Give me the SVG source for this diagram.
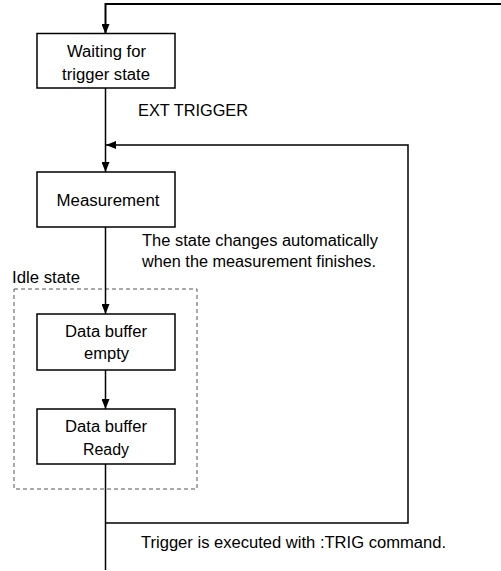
<svg xmlns="http://www.w3.org/2000/svg" width="501" height="571" viewBox="0 0 501 571">
<defs>
<style>
.box{fill:#fff;stroke:#000;stroke-width:1.5}
.ln{fill:none;stroke:#000;stroke-width:1.5}
.t{font-family:"Liberation Sans",Arial,sans-serif;font-size:16px;fill:#000}
.c{text-anchor:middle}
.dash{fill:none;stroke:#555;stroke-width:1;stroke-dasharray:4,3}
</style>
<marker id="ah" viewBox="0 0 10 8" refX="10" refY="4" markerWidth="10" markerHeight="8" markerUnits="userSpaceOnUse" orient="auto">
<path d="M0,0 L10,4 L0,8 z" fill="#000"/>
</marker>
</defs>
<rect width="501" height="571" fill="#fff"/>
<g id="idle-group">
<rect class="dash" x="14" y="289" width="183" height="200"/>
<text class="t" x="12" y="283" textLength="68" lengthAdjust="spacingAndGlyphs">Idle state</text>
</g>
<g id="connectors">
<polyline class="ln" points="501,4 105.5,4 105.5,34" style="stroke-width:2" marker-end="url(#ah)"/>
<line class="ln" x1="105.5" y1="88" x2="105.5" y2="172" marker-end="url(#ah)"/>
<polyline class="ln" points="105.5,523 408,523 408,145 106,145" marker-end="url(#ah)"/>
<line class="ln" x1="105.5" y1="227" x2="105.5" y2="314" marker-end="url(#ah)"/>
<line class="ln" x1="105.5" y1="370" x2="105.5" y2="409" marker-end="url(#ah)"/>
<line class="ln" x1="105.5" y1="464" x2="105.5" y2="570"/>
<text class="t" x="138" y="116" textLength="110" lengthAdjust="spacingAndGlyphs">EXT TRIGGER</text>
<text class="t" x="142" y="246" textLength="236" lengthAdjust="spacingAndGlyphs">The state changes automatically</text>
<text class="t" x="142" y="267" textLength="234" lengthAdjust="spacingAndGlyphs">when the measurement finishes.</text>
<text class="t" x="141" y="548" textLength="305" lengthAdjust="spacingAndGlyphs">Trigger is executed with :TRIG command.</text>
</g>
<g id="waiting">
<rect class="box" x="37" y="33.5" width="138" height="54.5"/>
<text class="t c" x="106.5" y="57.3" textLength="79" lengthAdjust="spacingAndGlyphs">Waiting for</text>
<text class="t c" x="106" y="79.5" textLength="88" lengthAdjust="spacingAndGlyphs">trigger state</text>
</g>
<g id="measurement">
<rect class="box" x="37" y="172" width="138" height="55"/>
<text class="t c" x="108" y="205.5" textLength="103" lengthAdjust="spacingAndGlyphs">Measurement</text>
</g>
<g id="buffer-empty">
<rect class="box" x="37" y="314" width="138" height="56"/>
<text class="t c" x="106" y="337.3" textLength="82" lengthAdjust="spacingAndGlyphs">Data buffer</text>
<text class="t c" x="106.5" y="358.5" textLength="45" lengthAdjust="spacingAndGlyphs">empty</text>
</g>
<g id="buffer-ready">
<rect class="box" x="37" y="409" width="138" height="55"/>
<text class="t c" x="106" y="432" textLength="82" lengthAdjust="spacingAndGlyphs">Data buffer</text>
<text class="t c" x="106" y="455" textLength="46" lengthAdjust="spacingAndGlyphs">Ready</text>
</g>
</svg>
